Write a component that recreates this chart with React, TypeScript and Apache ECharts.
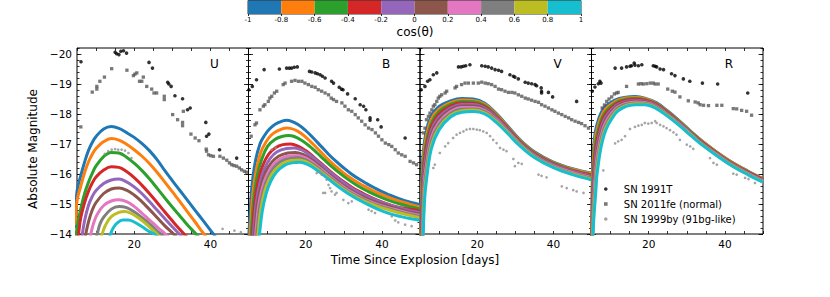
import React, { useEffect, useRef } from 'react';
import * as echarts from 'echarts';

const COLORS = ['#1f77b4', '#ff7f0e', '#2ca02c', '#d62728', '#9467bd', '#8c564b', '#e377c2', '#7f7f7f', '#bcbd22', '#17becf'];
const COS_BINS = [-1, -0.8, -0.6, -0.4, -0.2, 0, 0.2, 0.4, 0.6, 0.8, 1];
const BANDS = ['U', 'B', 'V', 'R'];
const X_LABELS = [20, 40];
const Y_MAJOR = [-20, -19, -18, -17, -16, -15, -14];
const LEGEND_NAMES = ['SN 1991T', 'SN 2011fe (normal)', 'SN 1999by (91bg-like)'];
const SQUARE = 'path://M0,0L10,0L10,10L0,10Z';

const U_MODELS = [
  [[4.5,-14.2],[5,-15.42],[6,-15.95],[7,-16.4],[8,-16.78],[9,-17.05],[10,-17.25],[12,-17.5],[14,-17.58],[16,-17.52],[18,-17.38],[20,-17.22],[22,-17.02],[24,-16.78],[26,-16.48],[28,-16.12],[30,-15.78],[32,-15.45],[34,-15.12],[36,-14.79],[38,-14.46],[40,-14.13],[42,-13.8]],
  [[4.6,-14.3],[5,-15.1],[6,-15.6],[7,-16.05],[8,-16.4],[9,-16.66],[10,-16.85],[12,-17.08],[14,-17.18],[16,-17.13],[18,-16.99],[20,-16.81],[22,-16.6],[24,-16.35],[26,-16.06],[28,-15.74],[30,-15.41],[32,-15.08],[34,-14.74],[36,-14.4],[38,-14.05],[40,-13.72]],
  [[4.7,-13.7],[5,-14.2],[6,-14.85],[7,-15.35],[8,-15.72],[9,-16.02],[10,-16.27],[12,-16.58],[14,-16.72],[16,-16.7],[18,-16.56],[20,-16.36],[22,-16.12],[24,-15.84],[26,-15.53],[28,-15.21],[30,-14.9],[32,-14.6],[34,-14.3],[36,-14.03],[38,-13.75]],
  [[5,-13.6],[5.4,-14.0],[6,-14.55],[7,-15.05],[8,-15.42],[9,-15.7],[10,-15.9],[12,-16.13],[14,-16.24],[16,-16.22],[18,-16.08],[20,-15.88],[22,-15.63],[24,-15.35],[26,-15.05],[28,-14.74],[30,-14.44],[32,-14.15],[34,-13.88]],
  [[6,-13.7],[6.4,-14.0],[7,-14.45],[8,-14.95],[9,-15.25],[10,-15.45],[12,-15.68],[14,-15.8],[16,-15.83],[18,-15.74],[20,-15.57],[22,-15.35],[24,-15.08],[26,-14.8],[28,-14.52],[30,-14.24],[32,-13.98],[34,-13.75]],
  [[7,-13.8],[7.3,-14.0],[8,-14.4],[9,-14.8],[10,-15.05],[12,-15.35],[14,-15.5],[16,-15.53],[18,-15.46],[20,-15.3],[22,-15.08],[24,-14.82],[26,-14.55],[28,-14.28],[30,-14.04],[32,-13.8]],
  [[8.2,-13.8],[8.6,-14.0],[9.5,-14.42],[10.5,-14.7],[12,-14.95],[14,-15.1],[16,-15.14],[18,-15.08],[20,-14.92],[22,-14.7],[24,-14.47],[26,-14.24],[28,-14.02],[30,-13.8]],
  [[9.8,-13.8],[10.3,-14.0],[11,-14.32],[12,-14.56],[14,-14.83],[16,-14.92],[18,-14.88],[20,-14.74],[22,-14.55],[24,-14.34],[26,-14.1],[27.2,-13.98],[28.5,-13.8]],
  [[11.1,-13.8],[11.6,-14.0],[12.5,-14.3],[14,-14.58],[16,-14.72],[17.5,-14.75],[19,-14.7],[21,-14.55],[23,-14.35],[25,-14.12],[26,-14.0],[27,-13.85]],
  [[13.3,-13.85],[13.8,-14.0],[14.5,-14.2],[15.5,-14.36],[17,-14.47],[18.5,-14.47],[20,-14.4],[22,-14.25],[24,-14.08],[25.5,-13.98],[26.5,-13.85]],
];

const B_MODELS = [
  [[4.9,-13.7],[5.1,-14.0],[5.8,-15.45],[6.7,-16.35],[8,-17.0],[9.3,-17.3],[10.5,-17.5],[12,-17.66],[14,-17.77],[15,-17.79],[16,-17.77],[18,-17.65],[20,-17.45],[22,-17.2],[24,-16.93],[26,-16.66],[28,-16.42],[30,-16.2],[32,-16.0],[34,-15.83],[36,-15.68],[38,-15.54],[40,-15.41],[42,-15.3],[44,-15.2],[46,-15.11],[48,-15.04],[50,-14.98]],
  [[5.2,-13.7],[5.4,-14.0],[6.1,-15.3],[7,-16.1],[8.2,-16.72],[9.5,-17.05],[11,-17.3],[13,-17.46],[15,-17.53],[16,-17.52],[18,-17.42],[20,-17.23],[22,-16.99],[24,-16.73],[26,-16.47],[28,-16.24],[30,-16.03],[32,-15.85],[34,-15.69],[36,-15.55],[38,-15.42],[40,-15.31],[42,-15.21],[44,-15.12],[46,-15.04],[48,-14.97],[50,-14.9]],
  [[5.5,-13.7],[5.7,-14.0],[6.4,-15.2],[7.3,-15.95],[8.5,-16.5],[10,-16.92],[12,-17.16],[14,-17.26],[15.5,-17.28],[17,-17.25],[19,-17.12],[21,-16.93],[23,-16.7],[25,-16.46],[27,-16.23],[29,-16.02],[31,-15.83],[33,-15.66],[35,-15.51],[37,-15.38],[39,-15.26],[42,-15.11],[45,-14.99],[48,-14.89],[50,-14.83]],
  [[5.8,-13.7],[6.0,-14.0],[6.7,-15.1],[7.6,-15.8],[8.8,-16.3],[10.3,-16.66],[12,-16.87],[14,-16.98],[16,-17.0],[18,-16.93],[20,-16.78],[22,-16.58],[24,-16.36],[26,-16.14],[28,-15.93],[30,-15.74],[32,-15.57],[34,-15.42],[36,-15.29],[38,-15.17],[41,-15.02],[44,-14.9],[47,-14.83],[50,-14.77]],
  [[6.1,-13.7],[6.3,-14.0],[7.0,-15.0],[8,-15.7],[9.2,-16.18],[10.7,-16.52],[12.5,-16.74],[15,-16.85],[17,-16.87],[19,-16.8],[21,-16.64],[23,-16.44],[25,-16.22],[27,-16.0],[29,-15.8],[31,-15.62],[33,-15.46],[35,-15.32],[37,-15.2],[40,-15.05],[43,-14.93],[46,-14.83],[50,-14.71]],
  [[6.4,-13.7],[6.6,-14.0],[7.3,-14.95],[8.3,-15.6],[9.5,-16.06],[11,-16.38],[13,-16.6],[15.3,-16.7],[17.3,-16.72],[19.3,-16.65],[21.3,-16.5],[23.3,-16.3],[25.3,-16.08],[27.3,-15.87],[29.3,-15.67],[31.3,-15.5],[33.3,-15.35],[35.3,-15.22],[37.5,-15.1],[40,-14.99],[43,-14.88],[46,-14.78],[50,-14.66]],
  [[6.7,-13.7],[6.9,-14.0],[7.6,-14.9],[8.6,-15.52],[9.8,-15.96],[11.3,-16.28],[13.3,-16.5],[15.6,-16.6],[17.7,-16.62],[19.7,-16.55],[21.7,-16.4],[23.7,-16.2],[25.7,-15.99],[27.7,-15.78],[29.7,-15.59],[31.7,-15.42],[33.7,-15.28],[35.7,-15.15],[38,-15.03],[41,-14.9],[44,-14.8],[47,-14.7],[50,-14.62]],
  [[7.0,-13.7],[7.2,-14.0],[7.9,-14.85],[8.9,-15.45],[10.1,-15.88],[11.6,-16.2],[13.6,-16.42],[15.9,-16.52],[18,-16.54],[20,-16.47],[22,-16.32],[24,-16.12],[26,-15.91],[28,-15.71],[30,-15.52],[32,-15.36],[34,-15.22],[36,-15.1],[38.5,-14.97],[41.5,-14.85],[44.5,-14.74],[47.5,-14.65],[50,-14.58]],
  [[7.3,-13.7],[7.5,-14.0],[8.2,-14.8],[9.2,-15.4],[10.4,-15.82],[11.9,-16.13],[13.9,-16.35],[16.1,-16.45],[18.2,-16.47],[20.2,-16.4],[22.2,-16.25],[24.2,-16.05],[26.2,-15.85],[28.2,-15.65],[30.2,-15.47],[32.2,-15.31],[34.2,-15.17],[36.2,-15.05],[38.7,-14.93],[41.7,-14.81],[44.7,-14.7],[47.7,-14.61],[50,-14.54]],
  [[7.7,-13.7],[7.9,-14.0],[8.6,-14.75],[9.6,-15.33],[10.8,-15.75],[12.3,-16.06],[14.3,-16.28],[16.4,-16.37],[18.5,-16.39],[20.5,-16.32],[22.5,-16.17],[24.5,-15.98],[26.5,-15.78],[28.5,-15.58],[30.5,-15.4],[32.5,-15.24],[34.5,-15.1],[36.5,-14.97],[39,-14.82],[42,-14.68],[45,-14.58],[48,-14.5],[50,-14.46]],
];

const V_MODELS = [
  [[4.95,-13.3],[5.15,-14.0],[5.6,-16.25],[6.5,-17.35],[8,-17.95],[10,-18.25],[13,-18.44],[16,-18.52],[19,-18.5],[22,-18.36],[25,-18.02],[28,-17.6],[31,-17.17],[35,-16.74],[40,-16.4],[45,-16.18],[50,-16.03]],
  [[5.03,-13.3],[5.23,-14.0],[5.68,-16.15],[6.5,-17.15],[8,-17.83],[10,-18.16],[13,-18.38],[16,-18.47],[19,-18.45],[22,-18.32],[25,-17.99],[28,-17.57],[31,-17.15],[35,-16.72],[40,-16.38],[45,-16.16],[50,-16.01]],
  [[5.1,-13.3],[5.3,-14.0],[5.75,-16.05],[6.5,-16.95],[8,-17.7],[10,-18.08],[13,-18.32],[16,-18.42],[19,-18.41],[22,-18.28],[25,-17.95],[28,-17.54],[31,-17.12],[35,-16.7],[40,-16.36],[45,-16.13],[50,-15.98]],
  [[5.18,-13.3],[5.38,-14.0],[5.83,-15.95],[6.5,-16.75],[8,-17.58],[10,-17.99],[13,-18.26],[16,-18.37],[19,-18.36],[22,-18.24],[25,-17.92],[28,-17.52],[31,-17.1],[35,-16.68],[40,-16.34],[45,-16.11],[50,-15.96]],
  [[5.26,-13.3],[5.46,-14.0],[5.91,-15.85],[6.5,-16.55],[8,-17.46],[10,-17.9],[13,-18.2],[16,-18.32],[19,-18.32],[22,-18.2],[25,-17.89],[28,-17.49],[31,-17.08],[35,-16.66],[40,-16.32],[45,-16.09],[50,-15.93]],
  [[5.34,-13.3],[5.54,-14.0],[5.99,-15.75],[6.5,-16.35],[8,-17.34],[10,-17.82],[13,-18.14],[16,-18.27],[19,-18.27],[22,-18.16],[25,-17.85],[28,-17.46],[31,-17.06],[35,-16.64],[40,-16.29],[45,-16.07],[50,-15.91]],
  [[5.42,-13.3],[5.62,-14.0],[6.07,-15.65],[6.5,-16.15],[8,-17.22],[10,-17.73],[13,-18.08],[16,-18.22],[19,-18.22],[22,-18.12],[25,-17.82],[28,-17.43],[31,-17.03],[35,-16.62],[40,-16.27],[45,-16.05],[50,-15.88]],
  [[5.49,-13.3],[5.69,-14.0],[6.14,-15.55],[6.5,-15.95],[8,-17.1],[10,-17.64],[13,-18.02],[16,-18.16],[19,-18.17],[22,-18.08],[25,-17.79],[28,-17.41],[31,-17.01],[35,-16.6],[40,-16.25],[45,-16.02],[50,-15.86]],
  [[5.57,-13.3],[5.77,-14.0],[6.22,-15.42],[6.6,-15.85],[8,-16.97],[10,-17.55],[13,-17.96],[16,-18.11],[19,-18.13],[22,-18.04],[25,-17.76],[28,-17.38],[31,-16.99],[35,-16.57],[40,-16.23],[45,-16.0],[50,-15.83]],
  [[5.65,-13.3],[5.85,-14.0],[6.2,-15.14],[6.7,-15.8],[8,-16.85],[10,-17.47],[13,-17.9],[16,-18.06],[19,-18.08],[22,-18.0],[25,-17.72],[28,-17.35],[31,-16.96],[35,-16.55],[40,-16.21],[45,-15.98],[50,-15.81]],
];

const R_MODELS = [
  [[4.85,-13.3],[5.0,-14.0],[5.3,-16.2],[5.7,-17.1],[6.5,-17.68],[8.3,-18.2],[11.3,-18.47],[14,-18.56],[16.5,-18.58],[19,-18.53],[22,-18.38],[25,-18.1],[28,-17.78],[31,-17.43],[34,-17.1],[38,-16.72],[42,-16.38],[46,-16.1],[50,-15.85]],
  [[4.89,-13.3],[5.04,-14.0],[5.34,-16.0],[5.74,-16.9],[6.5,-17.5],[8.3,-18.1],[11.3,-18.42],[14,-18.53],[16.5,-18.55],[19,-18.51],[22,-18.36],[25,-18.08],[28,-17.76],[31,-17.41],[34,-17.09],[38,-16.71],[42,-16.37],[46,-16.09],[50,-15.84]],
  [[4.94,-13.3],[5.09,-14.0],[5.39,-15.8],[5.79,-16.7],[6.5,-17.32],[8.3,-18.0],[11.3,-18.37],[14,-18.49],[16.5,-18.52],[19,-18.48],[22,-18.34],[25,-18.06],[28,-17.74],[31,-17.4],[34,-17.07],[38,-16.69],[42,-16.35],[46,-16.07],[50,-15.82]],
  [[4.98,-13.3],[5.13,-14.0],[5.43,-15.6],[5.83,-16.5],[6.5,-17.14],[8.3,-17.9],[11.3,-18.32],[14,-18.46],[16.5,-18.49],[19,-18.46],[22,-18.32],[25,-18.04],[28,-17.72],[31,-17.38],[34,-17.06],[38,-16.68],[42,-16.34],[46,-16.06],[50,-15.81]],
  [[5.03,-13.3],[5.18,-14.0],[5.48,-15.45],[5.88,-16.3],[6.5,-16.96],[8.3,-17.8],[11.3,-18.27],[14,-18.42],[16.5,-18.46],[19,-18.43],[22,-18.3],[25,-18.02],[28,-17.7],[31,-17.37],[34,-17.04],[38,-16.66],[42,-16.32],[46,-16.04],[50,-15.79]],
  [[5.07,-13.3],[5.22,-14.0],[5.52,-15.3],[5.92,-16.1],[6.5,-16.78],[8.3,-17.7],[11.3,-18.22],[14,-18.39],[16.5,-18.43],[19,-18.41],[22,-18.27],[25,-18.0],[28,-17.68],[31,-17.35],[34,-17.03],[38,-16.65],[42,-16.31],[46,-16.03],[50,-15.78]],
  [[5.12,-13.3],[5.27,-14.0],[5.57,-15.15],[5.97,-15.9],[6.5,-16.6],[8.3,-17.6],[11.3,-18.17],[14,-18.35],[16.5,-18.4],[19,-18.38],[22,-18.25],[25,-17.98],[28,-17.67],[31,-17.34],[34,-17.01],[38,-16.64],[42,-16.3],[46,-16.02],[50,-15.77]],
  [[5.16,-13.3],[5.31,-14.0],[5.61,-15.0],[6.01,-15.7],[6.5,-16.41],[8.3,-17.5],[11.3,-18.12],[14,-18.32],[16.5,-18.37],[19,-18.36],[22,-18.23],[25,-17.96],[28,-17.65],[31,-17.32],[34,-17.0],[38,-16.62],[42,-16.29],[46,-16.0],[50,-15.75]],
  [[5.21,-13.3],[5.36,-14.0],[5.66,-14.85],[6.06,-15.5],[6.5,-16.23],[8.3,-17.4],[11.3,-18.07],[14,-18.28],[16.5,-18.34],[19,-18.33],[22,-18.2],[25,-17.94],[28,-17.63],[31,-17.31],[34,-16.98],[38,-16.61],[42,-16.27],[46,-15.99],[50,-15.74]],
  [[5.25,-13.3],[5.4,-14.0],[5.7,-14.7],[6.1,-15.35],[6.5,-16.05],[8.3,-17.3],[11.3,-18.02],[14,-18.25],[16.5,-18.31],[19,-18.31],[22,-18.18],[25,-17.92],[28,-17.62],[31,-17.29],[34,-16.97],[38,-16.6],[42,-16.26],[46,-15.98],[50,-15.73]],
];

const SN1991T_U = [[6.05,-19.74],[15.0,-20.06],[15.4,-20.01],[16.0,-19.98],[16.5,-20.09],[17.2,-20.11],[18.0,-20.03],[23.9,-19.72],[24.8,-19.53],[28.8,-19.06],[29.1,-19.0],[29.7,-18.92],[30.7,-18.61],[32.7,-18.51],[34.0,-18.14],[34.7,-18.2],[38.8,-17.72],[39.6,-17.33],[39.0,-17.26],[42.4,-16.81],[46.9,-16.53]];
const SN1991T_B = [[5.1,-18.81],[6.0,-18.92],[7.1,-19.14],[9.1,-19.48],[13.1,-19.5],[15.0,-19.53],[15.7,-19.53],[16.3,-19.53],[17.0,-19.56],[17.8,-19.57],[21.0,-19.42],[21.6,-19.4],[22.5,-19.37],[23.1,-19.34],[23.8,-19.31],[24.4,-19.26],[25.1,-19.2],[26.8,-19.09],[27.3,-19.03],[28.8,-18.89],[29.4,-18.83],[29.8,-18.81],[31.0,-18.67],[33.0,-18.51],[34.3,-18.31],[35.2,-18.26],[35.8,-18.14],[36.9,-17.87],[36.9,-17.79],[38.9,-17.81],[39.8,-17.57],[46.1,-17.2]];
const SN1991T_V = [[5.3,-18.81],[6.3,-18.92],[7.0,-19.09],[7.6,-19.14],[8.5,-19.31],[9.4,-19.37],[15.1,-19.57],[15.8,-19.57],[16.4,-19.59],[17.0,-19.61],[18.1,-19.64],[21.2,-19.61],[22.1,-19.59],[22.9,-19.57],[23.8,-19.53],[24.7,-19.48],[25.6,-19.46],[26.4,-19.42],[28.6,-19.31],[29.5,-19.26],[29.9,-19.23],[30.8,-19.17],[32.6,-19.06],[33.4,-19.03],[34.3,-19.01],[35.2,-18.98],[35.6,-18.94],[36.8,-18.87],[36.9,-18.76],[36.9,-18.7],[38.7,-18.72],[39.8,-18.57],[46.1,-18.42]];
const SN1991T_R = [[5.2,-18.76],[5.9,-18.9],[6.8,-19.01],[7.2,-19.09],[7.5,-19.03],[11.2,-19.53],[12.9,-19.53],[14.2,-19.57],[15.1,-19.59],[15.5,-19.61],[16.2,-19.7],[16.4,-19.63],[17.3,-19.61],[18.2,-19.64],[21.2,-19.61],[21.7,-19.59],[22.1,-19.57],[23.0,-19.5],[23.9,-19.48],[26.0,-19.34],[26.9,-19.28],[29.1,-19.17],[30.8,-19.09],[34.1,-19.03],[38.1,-19.0],[46.0,-18.7]];

const SN2011FE_U = [[6.0,-17.57],[9.0,-18.73],[10.2,-18.92],[10.2,-18.83],[11.0,-19.09],[12.2,-19.23],[14.1,-19.51],[18.1,-19.46],[19.8,-19.28],[20.2,-19.33],[20.7,-19.37],[21.4,-19.09],[22.0,-19.09],[22.4,-19.23],[23.3,-18.92],[24.6,-18.83],[25.2,-18.7],[25.9,-18.7],[27.9,-18.59],[27.9,-18.48],[30.1,-17.98],[31.4,-17.81],[32.7,-17.72],[32.7,-17.61],[32.9,-18.09],[34.9,-17.33],[36.0,-17.2],[37.0,-17.11],[38.9,-16.83],[39.0,-16.76],[39.5,-16.64],[40.1,-16.61],[40.8,-16.59],[42.5,-16.59],[43.4,-16.53],[44.3,-16.46],[45.0,-16.37],[45.6,-16.31],[46.2,-16.28],[46.9,-16.26],[47.6,-16.2],[48.2,-16.14],[48.9,-16.09],[49.5,-16.06]];
const SN2011FE_B = [[5.7,-17.26],[6.7,-17.64],[7.1,-17.7],[8.0,-18.14],[8.9,-18.26],[9.3,-18.31],[10.2,-18.42],[10.6,-18.53],[11.1,-18.59],[11.8,-18.7],[12.4,-18.76],[14.1,-18.98],[14.6,-19.03],[16.3,-19.09],[17.2,-19.12],[18.1,-19.09],[19.0,-19.09],[19.8,-19.03],[20.7,-18.98],[21.6,-18.92],[22.5,-18.89],[23.3,-18.81],[24.2,-18.76],[25.1,-18.7],[26.0,-18.64],[26.7,-18.53],[27.3,-18.48],[28.1,-18.42],[29.5,-18.37],[30.3,-18.26],[31.2,-18.14],[32.1,-18.09],[33.0,-17.98],[33.8,-17.87],[34.7,-17.76],[35.6,-17.64],[36.5,-17.53],[37.4,-17.48],[38.3,-17.37],[39.1,-17.26],[40.0,-17.14],[40.9,-17.03],[41.8,-16.98],[42.6,-16.92],[43.5,-16.81],[44.3,-16.7],[45.2,-16.64],[46.1,-16.59],[47.4,-16.42],[48.3,-16.37],[49.1,-16.31]];
const SN2011FE_V = [[5.9,-17.37],[6.3,-17.53],[6.7,-17.81],[7.2,-17.92],[7.6,-18.03],[8.1,-18.14],[8.5,-18.26],[8.9,-18.31],[9.4,-18.42],[9.8,-18.53],[10.2,-18.59],[10.7,-18.64],[11.6,-18.7],[12.0,-18.76],[14.2,-18.87],[14.6,-18.92],[15.9,-18.98],[16.8,-19.03],[17.7,-19.03],[19.0,-19.03],[20.3,-19.03],[21.2,-19.06],[22.1,-19.03],[22.9,-19.01],[23.8,-18.98],[24.7,-18.92],[25.6,-18.83],[26.4,-18.81],[27.3,-18.76],[28.2,-18.72],[29.1,-18.72],[29.9,-18.7],[30.8,-18.64],[31.7,-18.59],[32.6,-18.53],[33.4,-18.5],[34.3,-18.46],[35.2,-18.42],[36.1,-18.39],[36.9,-18.31],[37.8,-18.26],[38.7,-18.2],[39.6,-18.14],[40.4,-18.09],[41.3,-18.03],[42.2,-17.98],[43.1,-17.92],[44.0,-17.87],[44.8,-17.81],[45.7,-17.76],[46.6,-17.72],[47.4,-17.68],[48.3,-17.61],[49.2,-17.53]];
const SN2011FE_R = [[7.8,-18.2],[8.4,-18.3],[9.0,-18.42],[9.6,-18.5],[10.3,-18.57],[11.0,-18.67],[11.6,-18.7],[12.0,-18.72],[14.2,-18.92],[17.3,-19.0],[18.0,-19.01],[18.6,-19.0],[19.5,-19.01],[20.4,-19.03],[21.2,-19.03],[21.7,-19.0],[22.5,-19.0],[25.0,-18.83],[26.2,-18.76],[26.9,-18.73],[28.2,-18.57],[30.4,-18.44],[32.2,-18.4],[33.0,-18.37],[33.5,-18.31],[34.4,-18.29],[35.7,-18.28],[37.9,-18.29],[39.2,-18.29],[42.2,-18.18],[43.1,-18.17],[44.4,-18.12],[45.7,-18.09],[47.0,-17.96]];

const SN1999BY_U = [[12.3,-16.67],[13.2,-16.76],[14.1,-16.81],[15.0,-16.83],[15.8,-16.81],[16.7,-16.81],[17.6,-16.78],[18.5,-16.7],[19.3,-16.53],[43.2,-14.17],[46.3,-14.11],[48.0,-14.06]];
const SN1999BY_B = [[11.1,-16.81],[12.1,-16.87],[22.9,-16.03],[23.8,-16.06],[24.2,-15.98],[25.5,-15.81],[26.0,-15.64],[26.4,-15.53],[25.1,-15.37],[24.6,-15.37],[26.8,-15.42],[27.7,-15.31],[28.1,-15.37],[29.9,-15.14],[31.2,-15.03],[32.1,-15.09],[36.5,-14.81],[37.3,-14.76],[38.2,-14.7],[42.6,-14.59],[43.5,-14.45],[44.3,-14.39],[46.1,-14.31],[47.8,-14.26]];
const SN1999BY_V = [[8.5,-16.2],[8.9,-16.31],[10.2,-16.7],[11.6,-16.92],[12.4,-17.03],[13.7,-17.2],[14.6,-17.31],[15.5,-17.37],[16.4,-17.42],[17.2,-17.48],[18.1,-17.5],[19.0,-17.5],[19.9,-17.48],[20.7,-17.46],[21.6,-17.42],[22.5,-17.37],[23.4,-17.26],[24.2,-17.14],[25.1,-17.03],[26.0,-16.87],[26.9,-16.81],[27.7,-16.76],[29.5,-16.5],[29.9,-16.26],[30.8,-16.37],[31.7,-16.34],[36.1,-15.98],[36.9,-15.94],[38.2,-15.89],[42.2,-15.59],[43.5,-15.53],[45.2,-15.46],[46.1,-15.42],[47.9,-15.37]];
const SN1999BY_R = [[8.1,-16.12],[11.2,-17.02],[12.0,-17.09],[12.9,-17.14],[13.8,-17.26],[15.1,-17.5],[16.4,-17.57],[17.3,-17.61],[18.2,-17.64],[19.0,-17.7],[19.9,-17.68],[20.8,-17.7],[21.7,-17.76],[22.1,-17.7],[23.0,-17.64],[23.9,-17.59],[24.7,-17.53],[25.6,-17.46],[26.5,-17.39],[27.3,-17.31],[28.2,-17.14],[30.0,-16.98],[30.9,-16.92],[31.7,-16.84],[36.1,-16.53],[37.0,-16.37],[37.9,-16.31],[42.2,-16.01],[43.1,-15.98],[45.3,-15.87],[46.2,-15.83],[47.9,-15.7]];

const MODELS = [U_MODELS, B_MODELS, V_MODELS, R_MODELS];
const OBS_1991T = [SN1991T_U, SN1991T_B, SN1991T_V, SN1991T_R];
const OBS_2011FE = [SN2011FE_U, SN2011FE_B, SN2011FE_V, SN2011FE_R];
const OBS_1999BY = [SN1999BY_U, SN1999BY_B, SN1999BY_V, SN1999BY_R];

const FONT = 'DejaVu Sans';
const PANEL_LEFT = 77;
const PANEL_W = 171.5;
const PANEL_TOP = 48;
const PANEL_H = 186;
const X_MIN = 5, X_MAX = 50;
const Y_MIN = -20.2, Y_MAX = -14;

function buildOption() {
  const grid: any[] = [];
  const xAxis: any[] = [];
  const yAxis: any[] = [];
  const series: any[] = [];
  const graphic: any[] = [];
  const tickStyle = { color: '#000', width: 0.8 };

  for (let b = 0; b < 4; b++) {
    const left = PANEL_LEFT + b * PANEL_W;
    grid.push({ left, top: PANEL_TOP, width: PANEL_W, height: PANEL_H, show: true, borderColor: '#000', borderWidth: 1, backgroundColor: 'transparent' });
    ['bottom', 'top'].forEach((pos, k) => {
      xAxis.push({
        type: 'value', gridIndex: b, position: pos, min: X_MIN, max: X_MAX, interval: 5,
        axisLine: { show: false }, splitLine: { show: false },
        axisTick: { show: true, inside: true, length: 3, lineStyle: tickStyle },
        axisLabel: {
          show: k === 0, interval: 0, margin: 4, fontSize: 10.5, fontFamily: FONT, color: '#000',
          formatter: (v: number) => (X_LABELS.indexOf(Math.round(v)) >= 0 && Math.abs(v - Math.round(v)) < 1e-6 ? String(Math.round(v)) : ''),
        },
      });
    });
    ['left', 'right'].forEach((pos) => {
      yAxis.push({
        type: 'value', gridIndex: b, position: pos, min: Y_MIN, max: Y_MAX, inverse: true,
        axisLine: { show: false }, splitLine: { show: false },
        axisTick: { show: true, inside: true, length: 4.5, lineStyle: tickStyle, customValues: Y_MAJOR },
        axisLabel: {
          show: b === 0 && pos === 'left', margin: 5, fontSize: 10.5, fontFamily: FONT, color: '#000', customValues: Y_MAJOR,
          formatter: (v: number) => (v < 0 ? '\u2212' + Math.abs(Math.round(v)) : String(Math.round(v))),
        },
      });
      yAxis.push({
        type: 'value', gridIndex: b, position: pos, min: Y_MIN, max: Y_MAX, inverse: true, interval: 0.2,
        axisLine: { show: false }, splitLine: { show: false },
        axisTick: { show: true, inside: true, length: 2.5, lineStyle: tickStyle },
        axisLabel: { show: false },
      });
    });

    MODELS[b].forEach((curve, k) => {
      series.push({
        type: 'line', xAxisIndex: b * 2, yAxisIndex: b * 4, data: curve,
        showSymbol: false, symbol: 'none', smooth: 0.4, clip: true,
        lineStyle: { width: 3, color: COLORS[k], join: 'round' }, itemStyle: { color: COLORS[k] }, z: 2, silent: true,
      });
    });
    series.push({
      name: LEGEND_NAMES[0], type: 'scatter', xAxisIndex: b * 2, yAxisIndex: b * 4, data: OBS_1991T[b],
      symbol: 'circle', symbolSize: 3.6, itemStyle: { color: '#000' }, z: 5, clip: true, silent: true,
    });
    series.push({
      name: LEGEND_NAMES[1], type: 'scatter', xAxisIndex: b * 2, yAxisIndex: b * 4, data: OBS_2011FE[b],
      symbol: SQUARE, symbolSize: 3.3, itemStyle: { color: '#575757' }, z: 5, clip: true, silent: true,
    });
    series.push({
      name: LEGEND_NAMES[2], type: 'scatter', xAxisIndex: b * 2, yAxisIndex: b * 4, data: OBS_1999BY[b],
      symbol: 'circle', symbolSize: 2.7, itemStyle: { color: '#8e8e8e' }, z: 5, clip: true, silent: true,
    });

    graphic.push({
      type: 'text', x: left + 137.5, y: 64, z: 10,
      style: { text: BANDS[b], fontSize: 12, fontFamily: FONT, fill: '#000', textAlign: 'center', textVerticalAlign: 'middle' },
    });
  }

  // colorbar
  const cbGrid = grid.length;
  grid.push({ left: 248, top: 0.5, width: 333, height: 13.5, show: true, borderColor: '#000', borderWidth: 0.8 });
  xAxis.push({
    type: 'value', gridIndex: cbGrid, min: -1, max: 1, interval: 0.2, position: 'bottom',
    axisLine: { show: false }, splitLine: { show: false },
    axisTick: { show: true, inside: false, length: 2, lineStyle: tickStyle },
    axisLabel: { show: true, interval: 0, margin: 2, fontSize: 7, fontFamily: FONT, color: '#000', formatter: (v: number) => String(Math.round(v * 10) / 10) },
  });
  yAxis.push({ type: 'value', gridIndex: cbGrid, min: 0, max: 1, show: false });
  const cbData = COS_BINS.slice(0, -1).map((lo, i) => [lo, COS_BINS[i + 1], i]);
  series.push({
    type: 'custom', xAxisIndex: xAxis.length - 1, yAxisIndex: yAxis.length - 1, data: cbData, silent: true, z: 1,
    encode: { x: [0, 1] },
    renderItem: (params: any, api: any) => {
      const p0 = api.coord([api.value(0), 1]);
      const p1 = api.coord([api.value(1), 0]);
      return {
        type: 'rect',
        shape: { x: p0[0], y: p0[1], width: p1[0] - p0[0], height: p1[1] - p0[1] },
        style: { fill: COLORS[api.value(2)] },
      };
    },
  });

  graphic.push({
    type: 'text', x: 415, y: 32,
    style: { text: 'cos(\u03b8)', fontSize: 12, fontFamily: FONT, fill: '#000', textAlign: 'center', textVerticalAlign: 'middle' },
  });
  graphic.push({
    type: 'text', x: 415, y: 260,
    style: { text: 'Time Since Explosion [days]', fontSize: 12, fontFamily: FONT, fill: '#000', textAlign: 'center', textVerticalAlign: 'middle' },
  });
  graphic.push({
    type: 'text', x: 33, y: 149, rotation: Math.PI / 2,
    style: { text: 'Absolute Magnitude', fontSize: 12, fontFamily: FONT, fill: '#000', textAlign: 'center', textVerticalAlign: 'middle' },
  });

  return {
    animation: false,
    backgroundColor: '#fff',
    grid, xAxis, yAxis, series, graphic,
    legend: {
      data: [
        { name: LEGEND_NAMES[0], icon: 'circle' },
        { name: LEGEND_NAMES[1], icon: SQUARE },
        { name: LEGEND_NAMES[2], icon: 'circle' },
      ],
      orient: 'vertical', left: 599, top: 178,
      itemWidth: 26, itemHeight: 3.6, itemGap: 3, selectedMode: false,
      textStyle: { fontSize: 10, fontFamily: FONT, color: '#000', lineHeight: 12 },
    },
  };
}

export default function App() {
  const ref = useRef<HTMLDivElement>(null);
  useEffect(() => {
    if (!ref.current) return;
    const chart = echarts.init(ref.current, null, { renderer: 'svg' });
    chart.setOption(buildOption() as any);
    return () => chart.dispose();
  }, []);
  return <div ref={ref} style={{ position: 'absolute', left: 0, top: 0, width: 830, height: 297 }} />;
}
